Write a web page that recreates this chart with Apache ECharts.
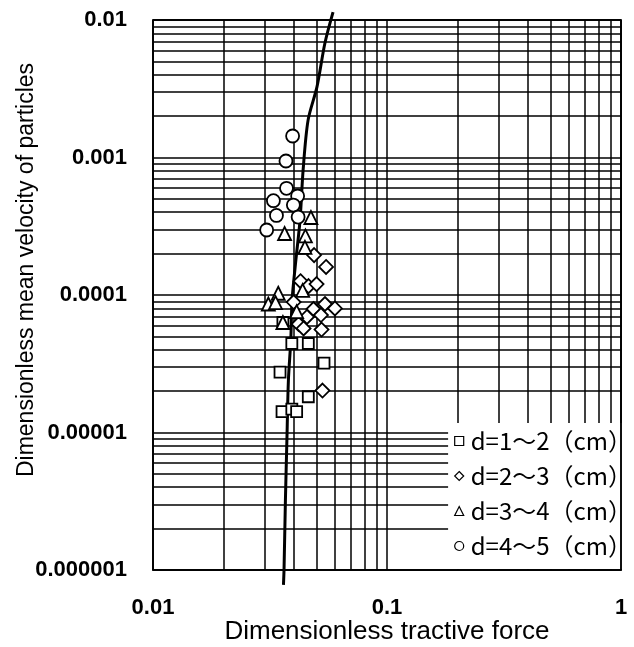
<!DOCTYPE html>
<html><head><meta charset="utf-8">
<script src="https://cdn.jsdelivr.net/npm/echarts@6/dist/echarts.min.js"></script>
<style>html,body{margin:0;padding:0;background:#fff}#c{width:634px;height:647px}</style>
</head><body><div id="c"></div>
<script>
// ---- data ----
const seriesNames = ['d=1～2（cm）', 'd=2～3（cm）', 'd=3～4（cm）', 'd=4～5（cm）'];
const squares = [
  [0.0392, 0.0000444], [0.0461, 0.0000444], [0.0538, 0.0000320], [0.0349, 0.0000275],
  [0.0461, 0.0000182], [0.0356, 0.0000142], [0.0392, 0.0000148], [0.0411, 0.0000142],
  [0.0359, 0.0000631]
];
const diamonds = [
  [0.0488, 0.000195], [0.0549, 0.000160], [0.0427, 0.000126], [0.0462, 0.000116],
  [0.0500, 0.000120], [0.0399, 0.0000889], [0.0543, 0.0000860], [0.0599, 0.0000798],
  [0.0485, 0.0000791], [0.0522, 0.0000715], [0.0455, 0.0000692], [0.0419, 0.0000615],
  [0.0440, 0.0000571], [0.0525, 0.0000561], [0.0530, 0.0000202]
];
const triangles = [
  [0.0473, 0.000366], [0.0365, 0.000280], [0.0448, 0.000269], [0.0446, 0.000222],
  [0.0343, 0.000103], [0.0311, 0.0000860], [0.0334, 0.0000879], [0.0436, 0.000108],
  [0.0411, 0.0000756], [0.0359, 0.0000631]
];
const circles = [
  [0.0395, 0.001433], [0.0370, 0.000943], [0.0372, 0.000597], [0.0415, 0.000525],
  [0.0327, 0.000485], [0.0398, 0.000451], [0.0337, 0.000379], [0.0417, 0.000369],
  [0.0306, 0.000297]
];
const curve = [
  [0.0361, 7.8e-7], [0.0363, 1.0e-6], [0.0368, 3.2e-6], [0.0374, 9.8e-6], [0.0379, 2.4e-5],
  [0.0388, 4.7e-5], [0.0393, 9.2e-5], [0.0408, 1.8e-4], [0.0425, 3.5e-4], [0.0438, 8.1e-4],
  [0.0460, 1.87e-3], [0.0502, 3.26e-3], [0.0543, 6.8e-3], [0.0588, 1.14e-2]
];
const xTickValues = [0.01, 0.1, 1];
const xTickLabels = ['0.01', '0.1', '1'];
const yTickValues = [0.000001, 0.00001, 0.0001, 0.001, 0.01];
const yTickLabels = ['0.000001', '0.00001', '0.0001', '0.001', '0.01'];
const xMinorGrid = [0.02, 0.03, 0.04, 0.05, 0.06, 0.07, 0.08, 0.09, 0.2, 0.3, 0.4, 0.5, 0.6, 0.7, 0.8, 0.9];
const yMinorGrid = [
  2e-6, 3e-6, 4e-6, 5e-6, 6e-6, 7e-6, 8e-6, 9e-6,
  2e-5, 3e-5, 4e-5, 5e-5, 6e-5, 7e-5, 8e-5, 9e-5,
  2e-4, 3e-4, 4e-4, 5e-4, 6e-4, 7e-4, 8e-4, 9e-4,
  2e-3, 3e-3, 4e-3, 5e-3, 6e-3, 7e-3, 8e-3, 9e-3
];
const xTitle = 'Dimensionless tractive force';
const yTitle = 'Dimensionless mean velocity of particles';
const symbols = ['rect', 'diamond', 'triangle', 'circle'];
const symbolSizes = [11, 14, 13, 13];

// ---- chart ----
function nearestLabel(values, labels, v) {
  let best = 0, bd = Infinity;
  values.forEach((t, i) => { const d = Math.abs(Math.log10(t) - Math.log10(v)); if (d < bd) { bd = d; best = i; } });
  return bd < 0.01 ? labels[best] : '';
}
const gridLine = { color: '#000', width: 1.5, type: 'solid' };
const tickFont = { fontSize: 22, fontFamily: 'Liberation Sans, Arial, sans-serif', color: '#000', fontWeight: 'bold' };
const chart = echarts.init(document.getElementById('c'), null, { renderer: 'canvas' });
const pointSets = [squares, diamonds, triangles, circles];
const scatterSeries = pointSets.map((d, i) => ({
  name: seriesNames[i], type: 'scatter', data: d, symbol: symbols[i], symbolSize: symbolSizes[i],
  itemStyle: { color: '#fff', borderColor: '#000', borderWidth: 1.8, opacity: 1 },
  z: 4, silent: true
}));
const minorMark = (items) => ({
  silent: true, symbol: ['none', 'none'], z: 1, animation: false, precision: 12,
  label: { show: false }, emphasis: { disabled: true },
  lineStyle: gridLine, data: items
});
const yRange = { type: 'log', logBase: 10, min: 0.000001, max: 0.01, splitNumber: 4 };
chart.setOption({
  animation: false,
  backgroundColor: '#fff',
  grid: { left: 153, right: 13, top: 20, bottom: 77, outerBoundsMode: 'none', containLabel: false,
    show: true, borderColor: '#000', borderWidth: 1.5, backgroundColor: 'transparent' },
  xAxis: {
    type: 'log', logBase: 10, min: 0.01, max: 1, splitNumber: 2, z: 11,
    axisLine: { show: true, lineStyle: { color: '#000', width: 1.5 } },
    axisTick: { show: false },
    splitLine: { show: true, lineStyle: gridLine },
    axisLabel: Object.assign({ margin: 27, showMinLabel: true, showMaxLabel: true,
      formatter: v => nearestLabel(xTickValues, xTickLabels, v) }, tickFont),
    name: xTitle, nameLocation: 'middle', nameGap: 49, nameMoveOverlap: false,
    nameTextStyle: { fontSize: 26, fontFamily: 'Liberation Sans, Arial, sans-serif', color: '#000' }
  },
  yAxis: [
    Object.assign({
      axisLine: { show: true, lineStyle: { color: '#000', width: 1.5 } },
      axisTick: { show: false },
      splitLine: { show: true, lineStyle: gridLine },
      axisLabel: Object.assign({ margin: 26, showMinLabel: true, showMaxLabel: true,
        formatter: v => nearestLabel(yTickValues, yTickLabels, v) }, tickFont),
      name: yTitle, nameLocation: 'middle', nameGap: 115, nameMoveOverlap: false,
      nameTextStyle: { fontSize: 23, fontFamily: 'Liberation Sans, Arial, sans-serif', color: '#000', padding: [0, 0, 0, 50] }
    }, yRange),
    Object.assign({
      position: 'right', z: 11,
      axisLine: { show: true, onZero: false, lineStyle: { color: '#000', width: 1.5 } },
      axisTick: { show: false }, axisLabel: { show: false }, splitLine: { show: false }
    }, yRange)
  ],
  legend: {
    data: seriesNames.map((n, i) => ({ name: n, icon: symbols[i] })),
    orient: 'vertical', right: 2, bottom: 78,
    itemWidth: 9, itemHeight: 9, itemGap: 11,
    padding: [6, 0, 11, 6],
    backgroundColor: '#fff', borderWidth: 0,
    selectedMode: false, z: 10,
    itemStyle: { color: '#fff', borderColor: '#000', borderWidth: 1.2 },
    textStyle: { fontSize: 24, fontFamily: 'Noto Sans CJK JP', color: '#000', padding: [0, 0, 0, 2] }
  },
  series: [
    {
      name: 'curve', type: 'line', data: curve, smooth: 0.3, showSymbol: false, clip: false,
      lineStyle: { color: '#000', width: 3 }, z: 3, silent: true,
      markLine: minorMark(xMinorGrid.map(v => ({ xAxis: v })))
    },
    {
      name: 'ygrid', type: 'line', data: curve, showSymbol: false, silent: true,
      lineStyle: { opacity: 0 }, z: 1,
      markLine: minorMark(yMinorGrid.map(v => ({ yAxis: v })))
    }
  ].concat(scatterSeries)
});
</script>
</body></html>
